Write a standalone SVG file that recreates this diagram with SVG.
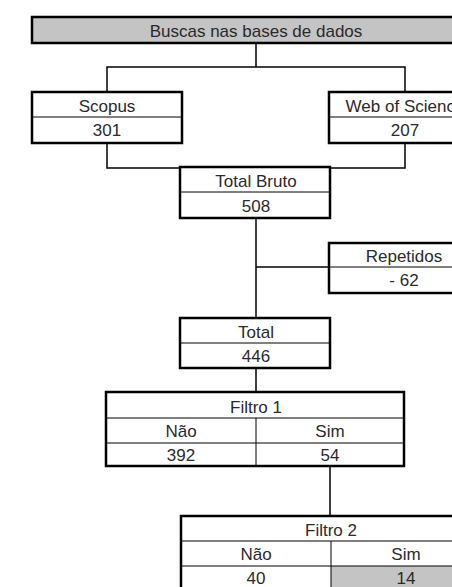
<svg xmlns="http://www.w3.org/2000/svg" width="452" height="587" viewBox="0 0 452 587">
<style>
  .box { fill: #ffffff; stroke: #000; stroke-width: 2.5; }
  .grey { fill: #c4c4c4; }
  .div { stroke: #000; stroke-width: 1; fill: none; }
  .conn { stroke: #000; stroke-width: 1.5; fill: none; }
  text { font-family: "Liberation Sans", Arial, sans-serif; font-size: 17px; fill: #2a2a2a; text-anchor: middle; }
</style>
<rect width="452" height="587" fill="#ffffff"/>
<g id="connectors">
  <path class="conn" d="M256 43 V67 M107 92 V67 H405 V92"/>
  <path class="conn" d="M107 143 V168 H405 V143"/>
  <path class="conn" d="M256 218 V318 M256 267 H329"/>
  <path class="conn" d="M256 368 V392"/>
  <path class="conn" d="M330 466 V516"/>
</g>
<g id="buscas">
  <rect class="box grey" x="32" y="17" width="448" height="26"/>
  <text x="256" y="36.5">Buscas nas bases de dados</text>
</g>
<g id="scopus">
  <rect class="box" x="32" y="92" width="150" height="51"/>
  <line class="div" x1="32" y1="117" x2="182" y2="117"/>
  <text x="107" y="111.5">Scopus</text>
  <text x="107" y="136">301</text>
</g>
<g id="wos">
  <rect class="box" x="329" y="92" width="152" height="51"/>
  <line class="div" x1="329" y1="117" x2="481" y2="117"/>
  <text x="405" y="111.5">Web of Science</text>
  <text x="405" y="136">207</text>
</g>
<g id="totalbruto">
  <rect class="box" x="180" y="167" width="150" height="51"/>
  <line class="div" x1="180" y1="192" x2="330" y2="192"/>
  <text x="256" y="186.5">Total Bruto</text>
  <text x="256" y="211.5">508</text>
</g>
<g id="repetidos">
  <rect class="box" x="329" y="243" width="152" height="50"/>
  <line class="div" x1="329" y1="267" x2="481" y2="267"/>
  <text x="404" y="262">Repetidos</text>
  <text x="404" y="286">- 62</text>
</g>
<g id="total">
  <rect class="box" x="180" y="318" width="150" height="50"/>
  <line class="div" x1="180" y1="343" x2="330" y2="343"/>
  <text x="256" y="337.5">Total</text>
  <text x="256" y="361.5">446</text>
</g>
<g id="filtro1">
  <rect class="box" x="106" y="392" width="298" height="74"/>
  <line class="div" x1="106" y1="418" x2="404" y2="418"/>
  <line class="div" x1="106" y1="443" x2="404" y2="443"/>
  <line class="div" x1="256" y1="418" x2="256" y2="466"/>
  <text x="256" y="412.5">Filtro 1</text>
  <text x="181" y="437">Não</text>
  <text x="330" y="437">Sim</text>
  <text x="181" y="461">392</text>
  <text x="330" y="461">54</text>
</g>
<g id="filtro2">
  <rect class="grey" x="331" y="566" width="150" height="30"/>
  <rect class="box" x="181" y="516" width="300" height="80" style="fill:none"/>
  <line class="div" x1="181" y1="541" x2="481" y2="541"/>
  <line class="div" x1="181" y1="566" x2="481" y2="566"/>
  <line class="div" x1="331" y1="541" x2="331" y2="596"/>
  <text x="331" y="535.5">Filtro 2</text>
  <text x="256" y="560">Não</text>
  <text x="406" y="560">Sim</text>
  <text x="256" y="584">40</text>
  <text x="406" y="584">14</text>
</g>
</svg>
